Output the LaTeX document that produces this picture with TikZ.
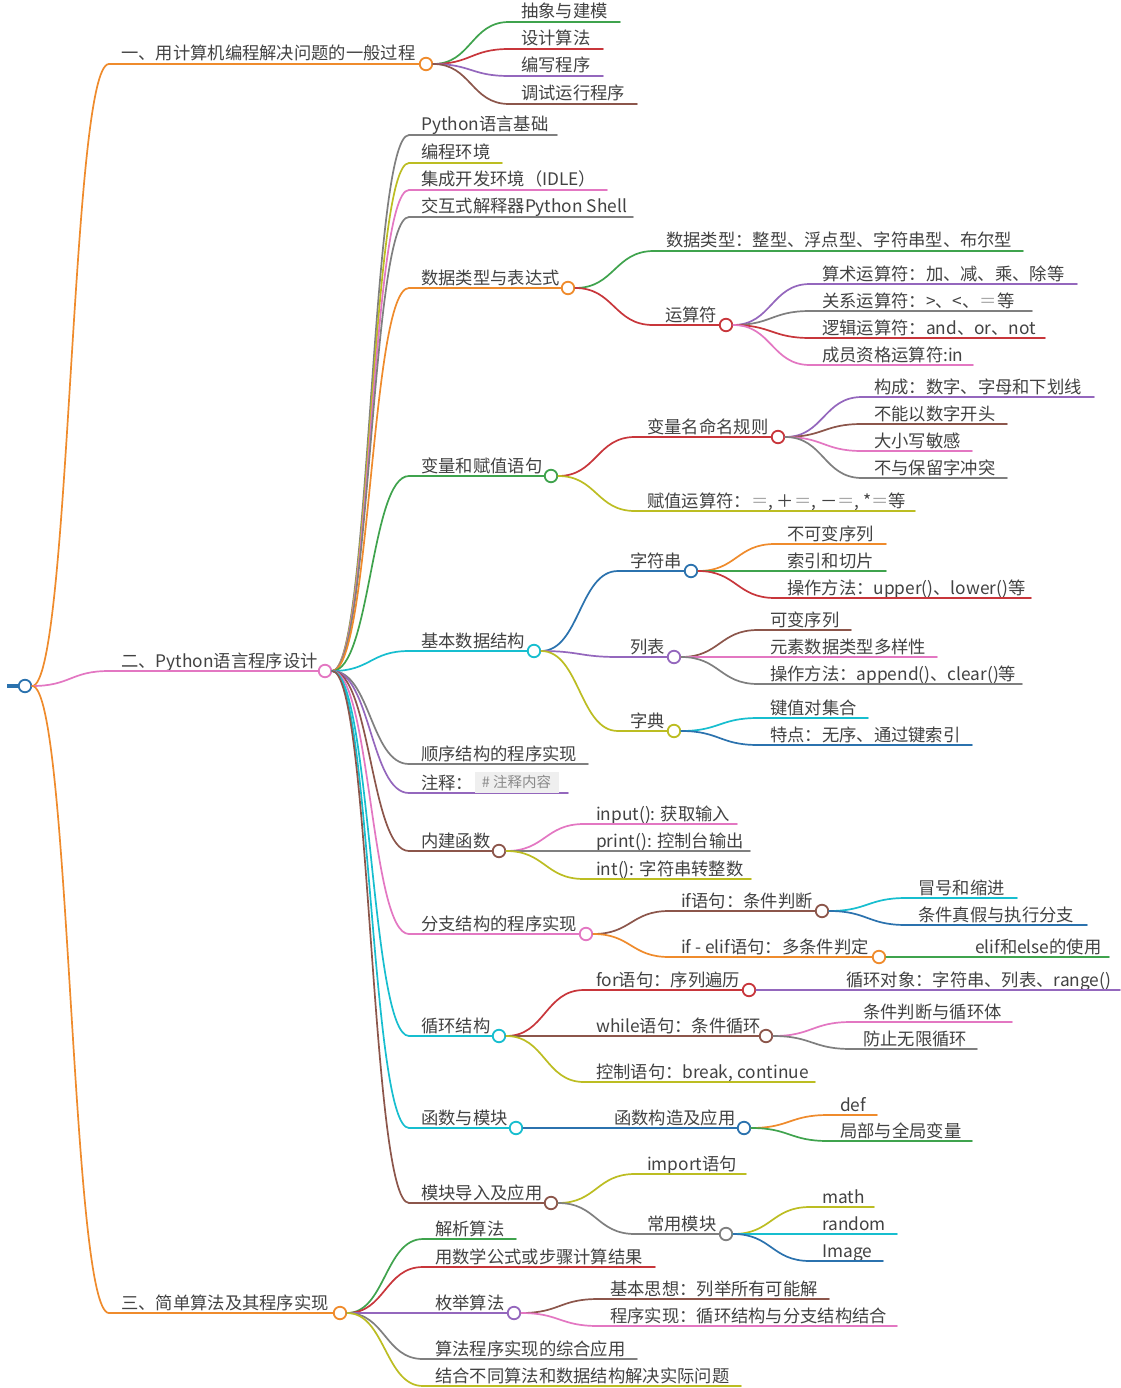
\documentclass[tikz,border=0pt]{standalone}
\usepackage{fontspec}
\setmainfont{Noto Sans CJK SC}
\usetikzlibrary{calc}

\definecolor{cblue}{HTML}{2B72AE}
\definecolor{corange}{HTML}{EF8B2C}
\definecolor{cgreen}{HTML}{3FA34D}
\definecolor{cred}{HTML}{C8363B}
\definecolor{cpurple}{HTML}{9467BD}
\definecolor{cbrown}{HTML}{8C564B}
\definecolor{cpink}{HTML}{E377C2}
\definecolor{cgray}{HTML}{7F7F7F}
\definecolor{colive}{HTML}{BCBD22}
\definecolor{ccyan}{HTML}{17BECF}
\definecolor{txtc}{HTML}{424242}
\definecolor{eqc}{HTML}{A8A8A8}
\definecolor{codebg}{HTML}{EFEFEF}
\definecolor{codetx}{HTML}{8A8A8A}

\newcommand\mmfont{\fontsize{17.3}{20}\selectfont}

\tikzset{
  txt/.style={anchor=base west, inner sep=0pt, text=txtc, font=\mmfont},
  hub/.style={circle, draw=#1, fill=white, line width=1.8pt, minimum size=12.5pt, inner sep=0pt},
  link/.style={line width=1.7pt, line cap=round},
  codebox/.style={fill=codebg, text=codetx, font=\fontsize{14.5}{16}\selectfont,
    inner xsep=7pt, inner ysep=0pt, minimum height=21pt, minimum width=84pt, anchor=west},
}

% leaf: name, text x, underline y, underline end x, colour, text
\newcommand\mmleaf[6]{%
  \coordinate (#1-s) at (#2-12,#3);
  \node[txt] (#1) at (#2,#3-4) {#6};
  \draw[link,draw=#5] (#1-s) -- (#4,#3);
}
% branch: name, text x, underline y, circle x, colour, text
\newcommand\mmbranch[6]{%
  \coordinate (#1-s) at (#2-12,#3);
  \node[txt] (#1) at (#2,#3-4) {#6};
  \draw[link,draw=#5] (#1-s) -- (#4-6.5,#3);
  \node[hub=#5] (#1-c) at (#4,#3) {};
}
% curved connector from a parent circle to a child's start
\newcommand\mmlink[3]{%
  \draw[link,draw=#3] let \p1=(#1.east), \p2=(#2-s) in
    (\p1) .. controls ({(\x1+\x2)/2},\y1) and ({(\x1+\x2)/2},\y2) .. (\p2);
}

\begin{document}
\begin{tikzpicture}[x=1pt,y=-1pt]
\fill[white] (0,0) rectangle (1120,1388);
\useasboundingbox (0,0) rectangle (1120,1388);

% root
\node[hub=cblue] (root) at (25,686) {};
\coordinate (stub) at (7,686);
\draw[line width=4pt, cblue] (stub) -- (root.west);

% main branches
\mmbranch{A}{121}{64}{426}{corange}{一、用计算机编程解决问题的一般过程}
\mmbranch{B}{121}{671}{325}{cpink}{二、Python语言程序设计}
\mmbranch{C}{121}{1313}{340}{corange}{三、简单算法及其程序实现}
\mmlink{root}{A}{corange}
\mmlink{root}{B}{cpink}
\mmlink{root}{C}{corange}

% part one
\mmleaf{a1}{521}{22}{620}{cgreen}{抽象与建模}
\mmleaf{a2}{521}{49}{603}{cred}{设计算法}
\mmleaf{a3}{521}{76}{603}{cpurple}{编写程序}
\mmleaf{a4}{521}{104}{637}{cbrown}{调试运行程序}
\mmlink{A-c}{a1}{cgreen}
\mmlink{A-c}{a2}{cred}
\mmlink{A-c}{a3}{cpurple}
\mmlink{A-c}{a4}{cbrown}

% part two
\mmleaf{b1}{421}{135}{557}{cgray}{Python语言基础}
\mmleaf{b2}{421}{163}{502}{colive}{编程环境}
\mmleaf{b3}{421}{190}{607}{cpink}{集成开发环境（IDLE）}
\mmleaf{b4}{421}{217}{633}{cgray}{交互式解释器Python Shell}
\mmbranch{b5}{421}{288}{568}{corange}{数据类型与表达式}
\mmbranch{b6}{421}{476}{551}{cgreen}{变量和赋值语句}
\mmbranch{b7}{421}{651}{534}{ccyan}{基本数据结构}
\mmleaf{b8}{421}{764}{588}{cgray}{顺序结构的程序实现}
\mmleaf{b9}{421}{793}{568}{cpurple}{注释：}
\node[codebox] (b9code) at ($(b9.east)+(1,0)$) {\# 注释内容};
\mmbranch{b10}{421}{851}{499}{cbrown}{内建函数}
\mmbranch{b11}{421}{934}{586}{cpink}{分支结构的程序实现}
\mmbranch{b12}{421}{1036}{499}{ccyan}{循环结构}
\mmbranch{b13}{421}{1128}{516}{ccyan}{函数与模块}
\mmbranch{b14}{421}{1203}{551}{cbrown}{模块导入及应用}
\mmlink{B-c}{b1}{cgray}
\mmlink{B-c}{b2}{colive}
\mmlink{B-c}{b3}{cpink}
\mmlink{B-c}{b4}{cgray}
\mmlink{B-c}{b5}{corange}
\mmlink{B-c}{b6}{cgreen}
\mmlink{B-c}{b7}{ccyan}
\mmlink{B-c}{b8}{cgray}
\mmlink{B-c}{b9}{cpurple}
\mmlink{B-c}{b10}{cbrown}
\mmlink{B-c}{b11}{cpink}
\mmlink{B-c}{b12}{ccyan}
\mmlink{B-c}{b13}{ccyan}
\mmlink{B-c}{b14}{cbrown}

% data types and expressions
\mmleaf{b5a}{666}{251}{1023}{cgreen}{数据类型：整型、浮点型、字符串型、布尔型}
\mmbranch{b5b}{665}{325}{726}{cred}{运算符}
\mmlink{b5-c}{b5a}{cgreen}
\mmlink{b5-c}{b5b}{cred}
\mmleaf{op1}{822}{284}{1077}{cpurple}{算术运算符：加、减、乘、除等}
\mmleaf{op2}{822}{311}{1032}{cgray}{关系运算符：>、<、{\color{eqc}＝}等}
\mmleaf{op3}{822}{338}{1045}{cred}{逻辑运算符：and、or、not}
\mmleaf{op4}{822}{365}{973}{cpink}{成员资格运算符:in}
\mmlink{b5b-c}{op1}{cpurple}
\mmlink{b5b-c}{op2}{cgray}
\mmlink{b5b-c}{op3}{cred}
\mmlink{b5b-c}{op4}{cpink}

% variables and assignment
\mmbranch{b6a}{647}{437}{778}{cred}{变量名命名规则}
\mmleaf{b6b}{647}{511}{915}{colive}{赋值运算符：{\color{eqc}＝}, ＋{\color{eqc}＝}, －{\color{eqc}＝}, *{\color{eqc}＝}等}
\mmlink{b6-c}{b6a}{cred}
\mmlink{b6-c}{b6b}{colive}
\mmleaf{nm1}{874}{397}{1094}{cpurple}{构成：数字、字母和下划线}
\mmleaf{nm2}{874}{424}{1007}{cbrown}{不能以数字开头}
\mmleaf{nm3}{874}{451}{972}{cpink}{大小写敏感}
\mmleaf{nm4}{874}{478}{1007}{cgray}{不与保留字冲突}
\mmlink{b6a-c}{nm1}{cpurple}
\mmlink{b6a-c}{nm2}{cbrown}
\mmlink{b6a-c}{nm3}{cpink}
\mmlink{b6a-c}{nm4}{cgray}

% basic data structures
\mmbranch{ds1}{630}{571}{691}{cblue}{字符串}
\mmbranch{ds2}{630}{657}{674}{cpurple}{列表}
\mmbranch{ds3}{630}{731}{674}{colive}{字典}
\mmlink{b7-c}{ds1}{cblue}
\mmlink{b7-c}{ds2}{cpurple}
\mmlink{b7-c}{ds3}{colive}
\mmleaf{st1}{787}{544}{886}{corange}{不可变序列}
\mmleaf{st2}{787}{571}{886}{cgreen}{索引和切片}
\mmleaf{st3}{787}{598}{1031}{cred}{操作方法：upper()、lower()等}
\mmlink{ds1-c}{st1}{corange}
\mmlink{ds1-c}{st2}{cgreen}
\mmlink{ds1-c}{st3}{cred}
\mmleaf{ls1}{770}{630}{851}{cbrown}{可变序列}
\mmleaf{ls2}{770}{657}{937}{cpink}{元素数据类型多样性}
\mmleaf{ls3}{770}{684}{1022}{cgray}{操作方法：append()、clear()等}
\mmlink{ds2-c}{ls1}{cbrown}
\mmlink{ds2-c}{ls2}{cpink}
\mmlink{ds2-c}{ls3}{cgray}
\mmleaf{dc1}{770}{718}{868}{ccyan}{键值对集合}
\mmleaf{dc2}{770}{745}{972}{cblue}{特点：无序、通过键索引}
\mmlink{ds3-c}{dc1}{ccyan}
\mmlink{ds3-c}{dc2}{cblue}

% built-in functions
\mmleaf{bf1}{596}{824}{737}{cpink}{input(): 获取输入}
\mmleaf{bf2}{596}{851}{750}{cgray}{print(): 控制台输出}
\mmleaf{bf3}{596}{879}{751}{colive}{int(): 字符串转整数}
\mmlink{b10-c}{bf1}{cpink}
\mmlink{b10-c}{bf2}{cgray}
\mmlink{b10-c}{bf3}{colive}

% branching
\mmbranch{if1}{681}{911}{822}{cbrown}{if语句：条件判断}
\mmbranch{if2}{681}{957}{879}{corange}{if - elif语句：多条件判定}
\mmlink{b11-c}{if1}{cbrown}
\mmlink{b11-c}{if2}{corange}
\mmleaf{ifa}{918}{898}{1017}{ccyan}{冒号和缩进}
\mmleaf{ifb}{918}{925}{1087}{cblue}{条件真假与执行分支}
\mmlink{if1-c}{ifa}{ccyan}
\mmlink{if1-c}{ifb}{cblue}
\mmleaf{ifc}{975}{957}{1109}{cgreen}{elif和else的使用}
\mmlink{if2-c}{ifc}{cgreen}

% loops
\mmbranch{lp1}{596}{990}{749}{cred}{for语句：序列遍历}
\mmbranch{lp2}{596}{1036}{766}{cbrown}{while语句：条件循环}
\mmleaf{lp3}{596}{1082}{815}{colive}{控制语句：break, continue}
\mmlink{b12-c}{lp1}{cred}
\mmlink{b12-c}{lp2}{cbrown}
\mmlink{b12-c}{lp3}{colive}
\mmleaf{fr1}{846}{990}{1120}{cpurple}{循环对象：字符串、列表、range()}
\mmlink{lp1-c}{fr1}{cpurple}
\mmleaf{wh1}{863}{1022}{1012}{cpink}{条件判断与循环体}
\mmleaf{wh2}{863}{1049}{977}{cgray}{防止无限循环}
\mmlink{lp2-c}{wh1}{cpink}
\mmlink{lp2-c}{wh2}{cgray}

% functions and modules
\mmbranch{fn1}{614}{1128}{744}{cblue}{函数构造及应用}
\mmlink{b13-c}{fn1}{cblue}
\mmleaf{fn2}{840}{1115}{877}{corange}{def}
\mmleaf{fn3}{840}{1141}{972}{cgreen}{局部与全局变量}
\mmlink{fn1-c}{fn2}{corange}
\mmlink{fn1-c}{fn3}{cgreen}

% importing modules
\mmleaf{im1}{647}{1174}{746}{colive}{import语句}
\mmbranch{im2}{647}{1234}{726}{cgray}{常用模块}
\mmlink{b14-c}{im1}{colive}
\mmlink{b14-c}{im2}{cgray}
\mmleaf{md1}{822}{1207}{874}{colive}{math}
\mmleaf{md2}{822}{1234}{897}{ccyan}{random}
\mmleaf{md3}{822}{1261}{883}{cblue}{Image}
\mmlink{im2-c}{md1}{colive}
\mmlink{im2-c}{md2}{ccyan}
\mmlink{im2-c}{md3}{cblue}

% part three
\mmleaf{c1}{435}{1239}{516}{cgreen}{解析算法}
\mmleaf{c2}{435}{1267}{655}{cred}{用数学公式或步骤计算结果}
\mmbranch{c3}{435}{1313}{514}{cpurple}{枚举算法}
\mmleaf{c4}{435}{1359}{637}{cgray}{算法程序实现的综合应用}
\mmleaf{c5}{435}{1386}{741}{colive}{结合不同算法和数据结构解决实际问题}
\mmlink{C-c}{c1}{cgreen}
\mmlink{C-c}{c2}{cred}
\mmlink{C-c}{c3}{cpurple}
\mmlink{C-c}{c4}{cgray}
\mmlink{C-c}{c5}{colive}
\mmleaf{en1}{610}{1299}{829}{cbrown}{基本思想：列举所有可能解}
\mmleaf{en2}{610}{1326}{897}{cpink}{程序实现：循环结构与分支结构结合}
\mmlink{c3-c}{en1}{cbrown}
\mmlink{c3-c}{en2}{cpink}
\end{tikzpicture}
\end{document}
